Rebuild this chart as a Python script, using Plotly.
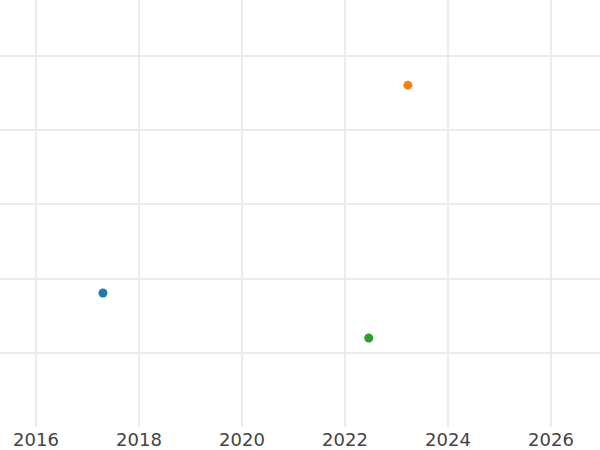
import plotly.graph_objects as go

years = [2017.30, 2023.22, 2022.46]
values = [1.805, 4.606, 1.199]
colors = ["#1f77b4", "#ff7f0e", "#2ca02c"]

fig = go.Figure()
for x, y, c in zip(years, values, colors):
    fig.add_trace(go.Scatter(x=[x], y=[y], mode="markers",
                             marker=dict(color=c, size=9), showlegend=False))

fig.update_layout(
    width=600, height=450,
    margin=dict(l=0, r=0, t=0, b=23),
    paper_bgcolor="white", plot_bgcolor="white",
    font=dict(family="DejaVu Sans", size=18, color="#444"),
)
fig.update_xaxes(range=[2015.301, 2026.951], dtick=2, tick0=2016,
                 showgrid=True, gridcolor="#ebebeb", gridwidth=1.5,
                 zeroline=False, showline=False, ticks="",
                 tickfont=dict(family="DejaVu Sans", size=18, color="#444"))
fig.update_yaxes(range=[0, 5.754], dtick=1, tick0=0,
                 showgrid=True, gridcolor="#ebebeb", gridwidth=1.5,
                 zeroline=False, showline=False, showticklabels=False, ticks="")
fig.write_html("out.html", config={"displayModeBar": False},
               post_script="document.body.style.margin='0';document.body.style.overflow='hidden';")
